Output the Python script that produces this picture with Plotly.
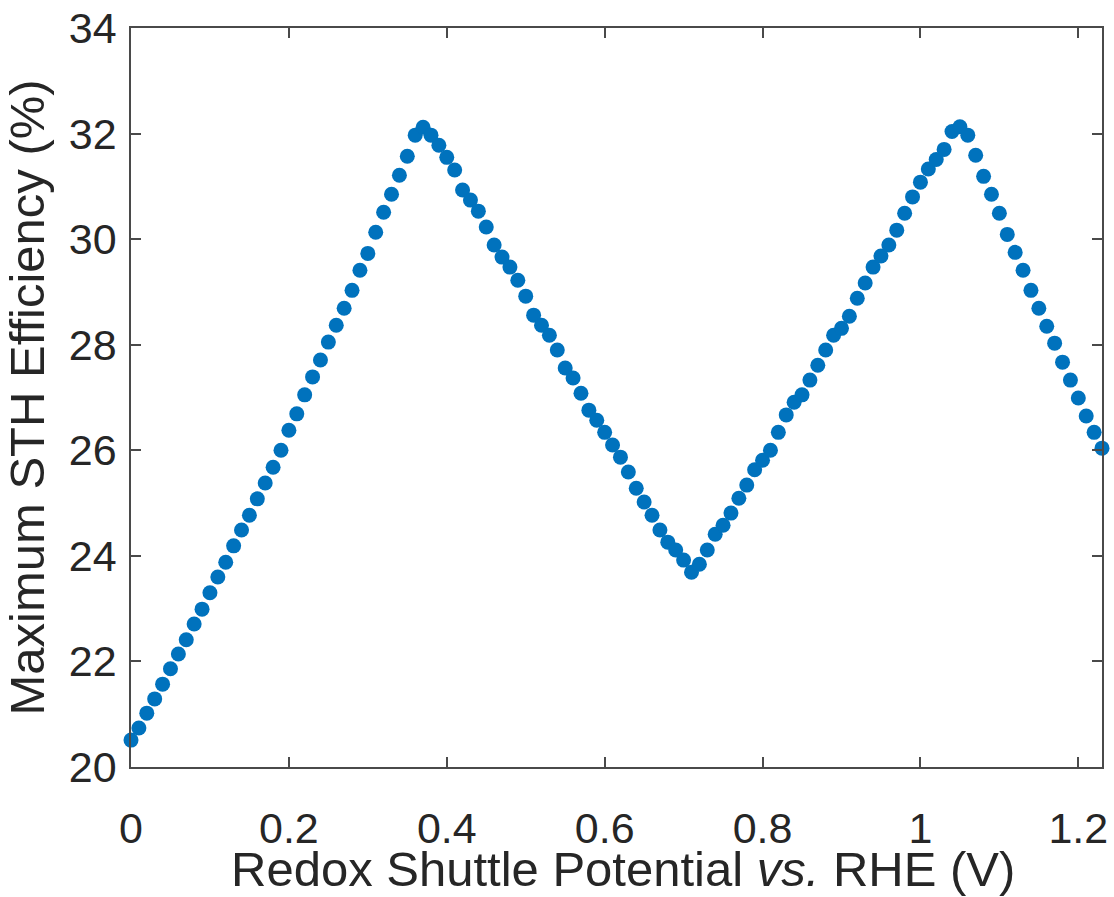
import plotly.graph_objects as go

potential = [round(i * 0.01, 2) for i in range(124)]

efficiency = [
    20.51, 20.74, 21.02, 21.29, 21.57, 21.86, 22.14, 22.41, 22.71, 22.99,
    23.30, 23.60, 23.88, 24.19, 24.49, 24.77, 25.08, 25.38, 25.68, 26.00,
    26.38, 26.69, 27.05, 27.39, 27.71, 28.05, 28.37, 28.69, 29.03, 29.41,
    29.73, 30.13, 30.51, 30.85, 31.21, 31.57, 31.97, 32.12, 31.97, 31.78,
    31.55, 31.31, 30.93, 30.74, 30.53, 30.23, 29.89, 29.66, 29.47, 29.22,
    28.92, 28.56, 28.37, 28.18, 27.90, 27.56, 27.37, 27.08, 26.76, 26.57,
    26.34, 26.10, 25.87, 25.59, 25.28, 25.02, 24.77, 24.49, 24.26, 24.11,
    23.92, 23.69, 23.84, 24.11, 24.41, 24.58, 24.81, 25.09, 25.34, 25.63,
    25.81, 26.00, 26.34, 26.67, 26.91, 27.05, 27.33, 27.61, 27.90, 28.18,
    28.31, 28.54, 28.88, 29.17, 29.47, 29.68, 29.89, 30.17, 30.49, 30.80,
    31.08, 31.33, 31.51, 31.70, 32.04, 32.13, 31.97, 31.59, 31.19, 30.85,
    30.49, 30.09, 29.75, 29.41, 29.03, 28.69, 28.35, 28.03, 27.67, 27.33,
    26.99, 26.65, 26.34, 26.04,
]

x_title = "Redox Shuttle Potential <i>vs.</i> RHE (V)"
y_title = "Maximum STH Efficiency (%)"

FONT = "Liberation Sans, Arial, Helvetica, sans-serif"
AXIS_COLOR = "#4a4a4a"
TEXT_COLOR = "#262626"

fig = go.Figure(
    go.Scatter(
        x=potential,
        y=efficiency,
        mode="markers",
        marker=dict(color="#0072BD", size=15, line=dict(width=0)),
        cliponaxis=False,
    )
)

axis_common = dict(
    showgrid=False,
    zeroline=False,
    showline=True,
    linecolor=AXIS_COLOR,
    linewidth=1.5,
    mirror="ticks",
    ticks="inside",
    ticklen=10,
    tickwidth=1.5,
    tickcolor=AXIS_COLOR,
    automargin=False,
    tickfont=dict(family=FONT, size=43, color=TEXT_COLOR),
)

fig.update_xaxes(
    range=[0, 1.23],
    tick0=0,
    dtick=0.2,
    ticklabelstandoff=23,
    **axis_common,
)
fig.update_yaxes(
    range=[20, 34],
    tick0=20,
    dtick=2,
    title=dict(text=y_title, font=dict(family=FONT, size=49, color=TEXT_COLOR), standoff=10),
    ticklabelstandoff=4,
    **axis_common,
)

# x-axis title placed as a paper annotation so it can sit exactly where the reference has it
fig.add_annotation(
    text=x_title,
    xref="paper", yref="paper",
    x=0.5067, y=0,
    xanchor="center", yanchor="middle",
    yshift=-102,
    showarrow=False,
    font=dict(family=FONT, size=49, color=TEXT_COLOR),
)

fig.update_layout(
    width=1114,
    height=897,
    margin=dict(l=131, r=12, t=28, b=130),
    paper_bgcolor="white",
    plot_bgcolor="white",
    showlegend=False,
    font=dict(family=FONT, color=TEXT_COLOR),
)

fig.write_html(
    "out.html",
    config={"displayModeBar": False},
    post_script="document.body.style.margin='0';document.body.style.overflow='hidden';",
)
